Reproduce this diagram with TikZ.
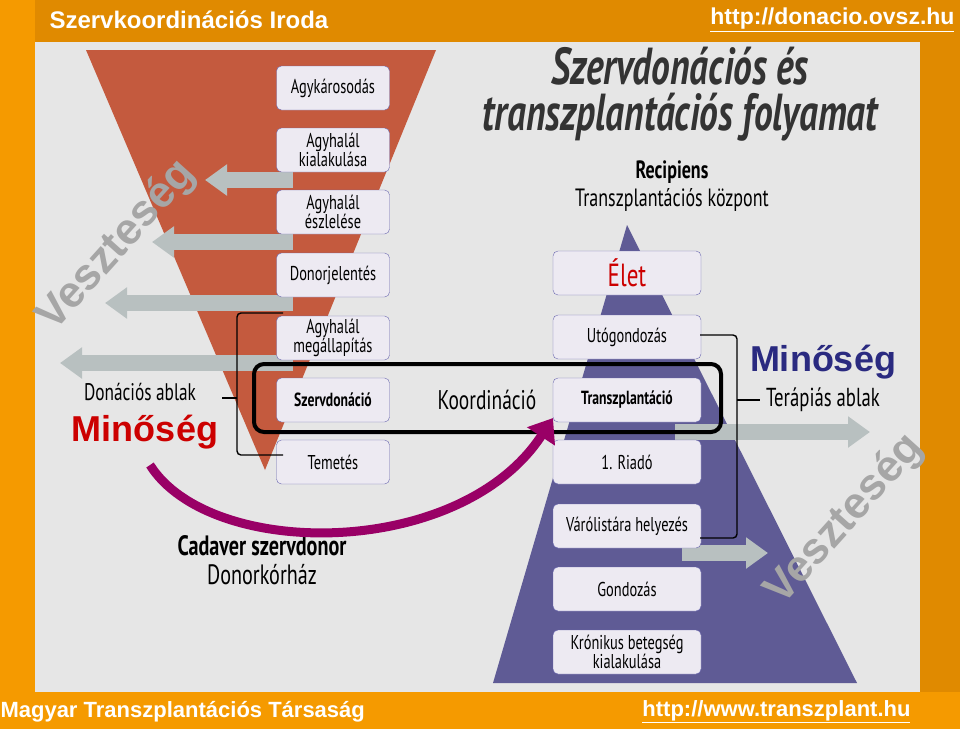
\documentclass[tikz,border=0pt]{standalone}
\usepackage{fontspec}
\setmainfont{PT Sans}[FakeStretch=0.72]
\newfontfamily\headfont{Liberation Sans}
\usetikzlibrary{positioning}
\usetikzlibrary{arrows.meta}
\definecolor{orangebg}{HTML}{F59A00}
\definecolor{orangedark}{HTML}{E08A00}
\definecolor{panel}{HTML}{E6E6E6}
\definecolor{funnel}{HTML}{C45A3E}
\definecolor{pyramid}{HTML}{5F5B95}
\definecolor{boxfill}{HTML}{EDEAF2}
\definecolor{boxline}{HTML}{6B68B0}
\definecolor{lossgray}{HTML}{B8C0C0}
\definecolor{navy}{HTML}{2A2A80}
\tikzset{
  stage/.style={draw=boxline, fill=boxfill, rounded corners=5pt, minimum width=113pt,
    minimum height=44pt, inner sep=1pt, align=center, font=\fontsize{20}{19}\selectfont},
  rstage/.style={stage, minimum width=148pt},
  loss/.style={lossgray, line width=16pt, -{Triangle[length=22pt,width=30pt]}},
  brace/.style={black, line width=1.4pt, rounded corners=4pt},
  veszt/.style={text=gray!70, font=\headfont\bfseries\fontsize{44}{44}\selectfont, rotate=48}
}
\begin{document}
\begin{tikzpicture}[x=1pt, y=-1pt]
    \useasboundingbox (0,0) rectangle (960,729);
    \fill[orangebg] (0,0) rectangle (960,729);
    \fill[orangedark] (35,0) rectangle (960,42);
    \fill[orangedark] (920,42) rectangle (960,692);
    \fill[panel] (35,42) rectangle (920,692);
    \node[anchor=west, text=white, font=\headfont\bfseries\fontsize{24}{24}\selectfont] (title) at (46,20) {Szervkoordinációs Iroda};
    \node[anchor=east, text=white, font=\headfont\bfseries\fontsize{23}{23}\selectfont] (url1) at (958,20) {\underline{http://donacio.ovsz.hu}};
    \node[anchor=west, text=white, font=\headfont\bfseries\fontsize{22}{22}\selectfont] (footer) at (-3,712) {Magyar Transzplantációs Társaság};
    \node[anchor=east, text=white, font=\headfont\bfseries\fontsize{22}{22}\selectfont] (url2) at (914,712) {\underline{http://www.transzplant.hu}};

    % funnel and pyramid
    \fill[funnel] (86,50) -- (436,50) -- (265,470) -- cycle;
    \fill[pyramid] (627,225) -- (857,683) -- (493,683) -- cycle;

    % loss arrows
    \draw[loss] (293,180) -- (205,180);
    \draw[loss] (293,242) -- (152,242);
    \draw[loss] (293,303) -- (105,303);
    \draw[loss] (293,363) -- (60,363);
    \draw[loss] (675,432) -- (870,432);
    \draw[loss] (682,553) -- (768,553);

    % left stages
    \node[stage] (damage) at (333,88) {Agykárosodás};
    \node[stage] (onset) at (333,150) {Agyhalál\\kialakulása};
    \node[stage] (detect) at (333,212) {Agyhalál\\észlelése};
    \node[stage] (report) at (333,275) {Donorjelentés};
    \node[stage] (confirm) at (333,338) {Agyhalál\\megállapítás};
    \node[stage, font=\bfseries\fontsize{19}{19}\selectfont] (donation) at (333,400) {Szervdonáció};
    \node[stage] (funeral) at (333,462) {Temetés};

    % right stages
    \node[rstage, text=red!80!black, font=\fontsize{32}{32}\selectfont] (life) at (627,273) {Élet};
    \node[rstage] (aftercare) at (627,337) {Utógondozás};
    \node[rstage, font=\bfseries\fontsize{19}{19}\selectfont] (transplant) at (627,400) {Transzplantáció};
    \node[rstage] (alarm) at (627,462) {1. Riadó};
    \node[rstage] (waitlist) at (627,526) {Várólistára helyezés};
    \node[rstage] (care) at (627,589) {Gondozás};
    \node[rstage] (chronic) at (627,652) {Krónikus betegség\\kialakulása};

    % coordination frame
    \draw[black, line width=4pt, rounded corners=10pt] (254,364) rectangle (721,432);
    \node[font=\fontsize{27}{27}\selectfont] (coord) at (487,400) {Koordináció};

    % brackets
    \draw[brace] (283,313) -- (237,313) -- (237,455) -- (283,455);
    \draw[brace] (237,398) -- (222,398);
    \draw[brace] (700,335) -- (737,335) -- (737,538) -- (700,538);
    \draw[brace] (737,400) -- (760,400);

    % headings
    \node[font=\bfseries\itshape\fontsize{52}{46}\selectfont, text=black!80, align=center] (head) at (680,94) {Szervdonációs és\\transzplantációs folyamat};
    \node[font=\bfseries\fontsize{25}{25}\selectfont] (recip) at (672,172) {Recipiens};
    \node[font=\fontsize{25}{25}\selectfont] (center) at (672,200) {Transzplantációs központ};
    \node[font=\fontsize{24}{24}\selectfont] (dwin) at (140,392) {Donációs ablak};
    \node[text=red!80!black, font=\headfont\bfseries\fontsize{36}{36}\selectfont] (qleft) at (145,432) {Minőség};
    \node[text=navy, font=\headfont\bfseries\fontsize{36}{36}\selectfont] (qright) at (823,362) {Minőség};
    \node[font=\fontsize{26}{26}\selectfont] (twin) at (823,400) {Terápiás ablak};
    \node[font=\bfseries\fontsize{28}{28}\selectfont] (cadaver) at (262,546) {Cadaver szervdonor};
    \node[font=\fontsize{28}{28}\selectfont] (hospital) at (262,575) {Donorkórház};
    \node[veszt] (lossl) at (117,246) {Veszteség};
    \node[veszt] (lossr) at (845,520) {Veszteség};

    % donor arrow
    \draw[red!60!blue, line width=9pt, -{Triangle[length=22pt,width=32pt]}]
      (150,465) .. controls (210,560) and (460,560) .. (553,418);
\end{tikzpicture}
\end{document}
